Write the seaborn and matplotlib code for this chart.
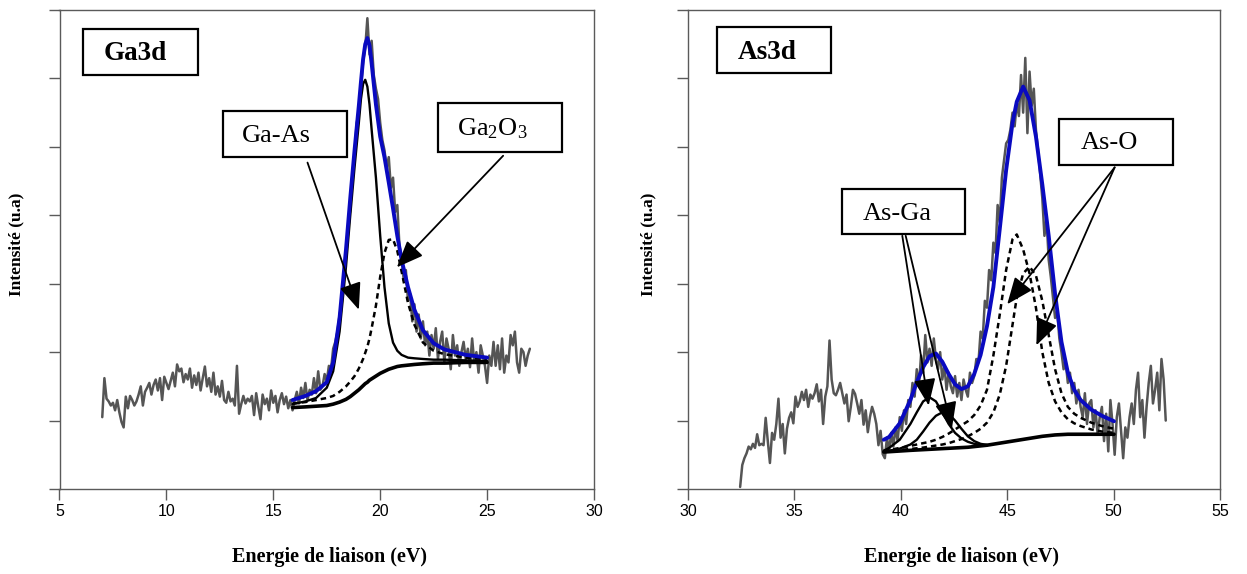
# %%
import numpy as np
import pandas as pd
import matplotlib
matplotlib.use("Agg")
import matplotlib.pyplot as plt
import seaborn as sns
from matplotlib.patches import Rectangle

# %% Ga3d spectrum (raw data, 0.1 eV step from 7.0 to 27.0 eV)
ga_raw_start, ga_raw_step = 7.0, 0.1
ga_raw = [
    1.05, 1.62, 1.32, 1.28, 1.22, 1.26, 1.15, 1.30, 1.12, 0.98,
    0.90, 1.35, 1.18, 1.36, 1.30, 1.22, 1.28, 1.38, 1.50, 1.22,
    1.42, 1.48, 1.55, 1.38, 1.52, 1.60, 1.44, 1.62, 1.30, 1.64,
    1.55, 1.46, 1.58, 1.70, 1.50, 1.82, 1.72, 1.76, 1.56, 1.68,
    1.60, 1.76, 1.48, 1.66, 1.52, 1.70, 1.44, 1.62, 1.79, 1.50,
    1.62, 1.42, 1.70, 1.38, 1.50, 1.35, 1.58, 1.30, 1.26, 1.42,
    1.28, 1.32, 1.22, 1.80, 1.10, 1.24, 1.36, 1.25, 1.32, 1.28,
    1.36, 1.08, 1.40, 1.20, 1.02, 1.38, 1.24, 1.32, 1.15, 1.44,
    1.26, 1.36, 1.12, 1.30, 1.40, 1.24, 1.35, 1.18, 1.30, 1.15,
    1.30, 1.42, 1.25, 1.48, 1.33, 1.55, 1.30, 1.45, 1.38, 1.62,
    1.40, 1.72, 1.45, 1.50, 1.68, 1.58, 1.80, 1.75, 2.05, 2.15,
    2.30, 2.55, 2.70, 3.15, 3.40, 3.80, 4.10, 4.60, 4.90, 5.35,
    5.50, 5.85, 6.25, 6.45, 6.88, 6.35, 6.55, 6.05, 5.85, 5.70,
    5.35, 5.10, 4.95, 4.70, 4.85, 4.40, 4.55, 4.05, 4.15, 3.55,
    3.40, 3.05, 3.20, 2.75, 2.85, 2.45, 2.70, 2.30, 2.55, 2.20,
    2.45, 2.10, 2.30, 1.95, 2.25, 2.05, 2.35, 1.90, 2.15, 2.30,
    1.85, 2.20, 2.05, 1.75, 2.25, 1.95, 2.10, 1.80, 2.00, 2.15,
    1.90, 2.05, 1.78, 2.20, 1.85, 2.00, 1.70, 2.10, 1.95, 1.80,
    1.55, 1.95, 1.80, 2.15, 1.80, 2.10, 1.75, 2.20, 1.70, 1.95,
    1.85, 2.25, 2.10, 2.30, 1.85, 1.70, 2.05, 2.00, 1.80, 1.95,
    2.05,
]

# fitted curves (Ga3d)
ga_fit_x = [15.9, 16.5, 17.0, 17.5, 17.8, 18.1, 18.4, 18.6, 18.8, 19.0, 19.1,
            19.2, 19.3, 19.4, 19.5, 19.6, 19.8, 20.0, 20.2, 20.4, 20.6, 20.8,
            21.0, 21.3, 21.6, 22.0, 22.5, 23.0, 24.0, 25.0]
ga_envelope = [1.30, 1.36, 1.43, 1.56, 1.85, 2.50, 3.50, 4.25, 4.95, 5.60, 5.95,
               6.28, 6.50, 6.59, 6.48, 6.22, 5.62, 5.15, 4.85, 4.48, 4.10, 3.70,
               3.35, 2.95, 2.62, 2.32, 2.13, 2.04, 1.96, 1.92]
ga_gaas = [1.24, 1.28, 1.33, 1.48, 1.72, 2.30, 3.25, 4.00, 4.70, 5.35, 5.70,
           5.92, 5.98, 5.88, 5.62, 5.25, 4.55, 3.70, 2.95, 2.42, 2.14, 2.02,
           1.96, 1.92, 1.91, 1.90, 1.89, 1.89, 1.88, 1.87]
ga_ga2o3 = [1.25, 1.27, 1.30, 1.33, 1.36, 1.42, 1.50, 1.57, 1.65, 1.76, 1.83,
            1.90, 1.99, 2.08, 2.20, 2.35, 2.68, 3.10, 3.45, 3.64, 3.65, 3.48,
            3.18, 2.72, 2.40, 2.14, 2.02, 1.97, 1.92, 1.90]
ga_background = [1.19, 1.20, 1.21, 1.22, 1.24, 1.27, 1.31, 1.35, 1.40, 1.45, 1.48,
                 1.51, 1.54, 1.56, 1.59, 1.61, 1.65, 1.69, 1.72, 1.75, 1.77, 1.79,
                 1.80, 1.81, 1.82, 1.83, 1.84, 1.84, 1.85, 1.85]

# %% As3d spectrum (raw data, 0.1 eV step from 32.45 to 52.45 eV)
as_raw_start, as_raw_step = 32.45, 0.1
as_raw = [
    0.03, 0.35, 0.45, 0.52, 0.62, 0.58, 0.66, 0.60, 0.80, 0.64,
    0.66, 0.64, 1.04, 0.70, 0.38, 0.82, 0.72, 0.95, 1.32, 0.75,
    0.95, 0.52, 0.88, 1.04, 1.12, 0.96, 1.35, 1.20, 1.28, 1.42,
    1.30, 1.45, 1.20, 1.38, 1.32, 1.40, 1.53, 1.28, 1.45, 0.95,
    1.35, 1.50, 2.17, 1.60, 1.40, 1.37, 1.45, 1.55, 1.40, 1.25,
    1.38, 0.99, 1.20, 1.45, 1.39, 1.25, 1.10, 1.30, 0.94, 1.15,
    0.83, 1.05, 1.20, 1.10, 0.95, 0.64, 0.85, 0.51, 0.45, 0.75,
    0.55, 0.82, 0.62, 0.90, 0.70, 1.05, 0.85, 1.15, 0.95, 1.30,
    1.20, 1.55, 1.35, 1.75, 1.50, 1.95, 1.70, 2.25, 1.85, 2.05,
    1.80, 2.20, 1.90, 1.75, 2.00, 1.60, 1.80, 1.45, 1.70, 1.50,
    1.40, 1.65, 1.35, 1.55, 1.30, 1.60, 1.45, 1.35, 1.70, 1.55,
    1.65, 1.90, 1.85, 2.30, 2.20, 2.75, 2.65, 3.20, 3.05, 3.60,
    3.45, 4.15, 3.90, 4.55, 4.80, 5.05, 5.10, 5.25, 5.50, 5.30,
    5.65, 5.45, 6.05, 5.50, 6.30, 5.20, 6.10, 5.60, 5.85, 5.25,
    4.95, 4.60, 4.25, 3.70, 3.95, 3.35, 3.10, 2.80, 2.50, 2.60,
    2.20, 2.00, 1.75, 1.85, 1.55, 1.70, 1.40, 1.55, 1.25, 1.45,
    1.20, 1.05, 1.40, 0.95, 1.25, 1.30, 0.90, 1.15, 0.80, 1.05,
    1.20, 0.70, 1.10, 0.55, 1.30, 0.95, 0.50, 1.05, 1.25, 0.85,
    0.45, 0.90, 0.75, 1.05, 1.25, 0.95, 1.45, 1.70, 1.05, 1.30,
    0.75, 1.20, 1.55, 1.80, 1.25, 1.45, 1.70, 1.15, 1.90, 1.60,
    1.00,
]

# fitted curves (As3d)
as_fit_x = [39.2, 39.45, 39.95, 40.45, 40.75, 41.05, 41.35, 41.65, 41.95, 42.25,
            42.55, 42.85, 43.15, 43.45, 43.75, 44.05, 44.35, 44.65, 44.95, 45.25,
            45.45, 45.75, 46.05, 46.35, 46.65, 46.95, 47.25, 47.55, 47.85, 48.15,
            48.45, 48.95, 49.45, 50.02]
as_envelope = [0.72, 0.76, 0.96, 1.30, 1.56, 1.78, 1.94, 1.98, 1.86, 1.68, 1.53,
               1.46, 1.50, 1.68, 1.96, 2.38, 2.95, 3.80, 4.66, 5.35, 5.66, 5.88,
               5.68, 5.15, 4.45, 3.70, 2.85, 2.15, 1.70, 1.45, 1.30, 1.16, 1.07,
               0.99]
as_aso_1 = [0.56, 0.57, 0.60, 0.63, 0.65, 0.67, 0.69, 0.72, 0.76, 0.81, 0.87,
            0.93, 0.99, 1.08, 1.22, 1.45, 1.95, 2.55, 3.20, 3.65, 3.72, 3.50,
            3.15, 2.65, 2.00, 1.55, 1.28, 1.12, 1.02, 0.96, 0.92, 0.87, 0.84,
            0.82]
as_aso_2 = [0.55, 0.555, 0.57, 0.585, 0.595, 0.605, 0.62, 0.635, 0.65, 0.67, 0.70,
            0.73, 0.77, 0.82, 0.88, 0.97, 1.12, 1.38, 1.80, 2.40, 2.80, 3.15,
            3.25, 3.12, 2.75, 2.25, 1.75, 1.40, 1.20, 1.10, 1.04, 0.97, 0.92,
            0.88]
as_background = [0.54, 0.545, 0.555, 0.565, 0.57, 0.575, 0.58, 0.585, 0.59, 0.595, 0.60,
                 0.605, 0.61, 0.62, 0.63, 0.64, 0.655, 0.67, 0.685, 0.70, 0.71, 0.725,
                 0.74, 0.755, 0.77, 0.78, 0.79, 0.795, 0.80, 0.80, 0.80, 0.80, 0.80,
                 0.80]
asga_x = [39.2, 39.45, 39.95, 40.45, 40.75, 41.05, 41.35, 41.65, 41.95, 42.25,
          42.55, 42.85, 43.15, 43.45, 43.75, 44.05]
as_asga_1 = [0.56, 0.60, 0.72, 0.95, 1.12, 1.28, 1.34, 1.28, 1.12, 0.95, 0.82,
             0.74, 0.69, 0.66, 0.645, 0.64]
as_asga_2 = [0.55, 0.56, 0.59, 0.65, 0.72, 0.84, 0.97, 1.07, 1.12, 1.10, 1.00,
             0.88, 0.77, 0.70, 0.66, 0.645]

# %%
sns.set_theme(style="white")
plt.rcParams["font.family"] = ["Liberation Sans", "DejaVu Sans"]
plt.rcParams["text.color"] = "black"
plt.rcParams["axes.labelcolor"] = "black"
plt.rcParams["mathtext.fontset"] = "custom"
plt.rcParams["mathtext.rm"] = "Liberation Serif"
plt.rcParams["mathtext.it"] = "Liberation Serif:italic"
plt.rcParams["mathtext.bf"] = "Liberation Serif:bold"

gray = "#555555"
blue = "#0A0AC0"
spine_col = "#5a5a5a"
serif = ["Liberation Serif", "DejaVu Serif"]

fig = plt.figure(figsize=(12.47, 5.74), dpi=100)
ax1 = fig.add_axes([59.5 / 1247, 85 / 574, 534.5 / 1247, 479 / 574])
ax2 = fig.add_axes([688 / 1247, 85 / 574, 532 / 1247, 479 / 574])


def draw_line(ax, x, y, color, lw, dashed=False):
    sns.lineplot(x=x, y=y, ax=ax, color=color, lw=lw, estimator=None, sort=False)
    if dashed:
        ax.lines[-1].set_dashes([2.2, 1.6])


def label_box(ax, x0, y0, x1, y1, text, tx, ty, size, weight="normal"):
    ax.add_patch(Rectangle((x0, y0), x1 - x0, y1 - y0, fill=True, fc="white",
                           ec="black", lw=1.6, zorder=5))
    ax.text(tx, ty, text, fontsize=size, fontweight=weight, family=serif,
            color="black", ha="left", va="center", zorder=6)


def arrow(ax, start, tip):
    ax.annotate("", xy=tip, xytext=start, zorder=7,
                arrowprops=dict(arrowstyle="-|>,head_length=1.1,head_width=0.45",
                                mutation_scale=15, color="black", lw=1.3,
                                shrinkA=0, shrinkB=0))


# %% Ga3d panel
ga_x = ga_raw_start + ga_raw_step * np.arange(len(ga_raw))
draw_line(ax1, ga_x, ga_raw, gray, 1.8)
draw_line(ax1, ga_fit_x, ga_background, "black", 2.6)
draw_line(ax1, ga_fit_x, ga_gaas, "black", 1.7)
draw_line(ax1, ga_fit_x, ga_ga2o3, "black", 1.8, dashed=True)
draw_line(ax1, ga_fit_x, ga_envelope, blue, 2.8)

label_box(ax1, 6.08, 6.05, 11.50, 6.72, "Ga3d", 7.05, 6.36, 19.5, "bold")
label_box(ax1, 12.65, 4.85, 18.46, 5.52, "Ga-As", 13.55, 5.16, 19)
label_box(ax1, 22.69, 4.93, 28.48, 5.64, "Ga$_2$O$_3$", 23.6, 5.26, 19)
arrow(ax1, (16.6, 4.77), (19.0, 2.62))
arrow(ax1, (25.75, 4.87), (20.78, 3.24))

ax1.set_xlim(5, 30)
ax1.set_xticks([5, 10, 15, 20, 25, 30])

# %% As3d panel
as_x = as_raw_start + as_raw_step * np.arange(len(as_raw))
draw_line(ax2, as_x, as_raw, gray, 1.8)
draw_line(ax2, as_fit_x, as_background, "black", 2.6)
draw_line(ax2, asga_x, as_asga_1, "black", 1.7)
draw_line(ax2, asga_x, as_asga_2, "black", 1.7)
draw_line(ax2, as_fit_x, as_aso_1, "black", 1.8, dashed=True)
draw_line(ax2, as_fit_x, as_aso_2, "black", 1.8, dashed=True)
draw_line(ax2, as_fit_x, as_envelope, blue, 2.8)

label_box(ax2, 31.35, 6.08, 36.71, 6.75, "As3d", 32.35, 6.38, 19.5, "bold")
label_box(ax2, 37.22, 3.72, 43.03, 4.38, "As-Ga", 38.2, 4.02, 19)
label_box(ax2, 47.42, 4.73, 52.78, 5.41, "As-O", 48.45, 5.05, 19)
arrow(ax2, (40.07, 3.70), (41.31, 1.22))
arrow(ax2, (40.23, 3.70), (42.40, 0.88))
arrow(ax2, (50.05, 4.70), (45.0, 2.70))
arrow(ax2, (50.05, 4.70), (46.37, 2.10))

ax2.set_xlim(30, 55)
ax2.set_xticks([30, 35, 40, 45, 50, 55])

# %% common styling
for ax, ylab_x, xlab_x in ((ax1, -0.080, 0.505), (ax2, -0.074, 0.515)):
    ax.set_ylim(0, 7)
    ax.set_yticks(range(8))
    ax.set_yticklabels([])
    for s in ax.spines.values():
        s.set_color(spine_col)
        s.set_linewidth(1.0)
    ax.tick_params(axis="both", which="both", direction="out", length=8,
                   width=1.0, color=spine_col, labelcolor="black", labelsize=11.5,
                   pad=3, bottom=True, left=True, top=False, right=False)
    ax.set_xlabel("Energie de liaison (eV)", fontsize=14.5, fontweight="bold",
                  family=serif)
    ax.xaxis.label.set_va("center")
    ax.xaxis.set_label_coords(xlab_x, -0.142)
    ax.set_ylabel("Intensité (u.a)", fontsize=12.5, fontweight="bold", family=serif)
    ax.yaxis.label.set_va("center")
    ax.yaxis.set_label_coords(ylab_x, 0.51)

fig.savefig("out.png", dpi=100)
